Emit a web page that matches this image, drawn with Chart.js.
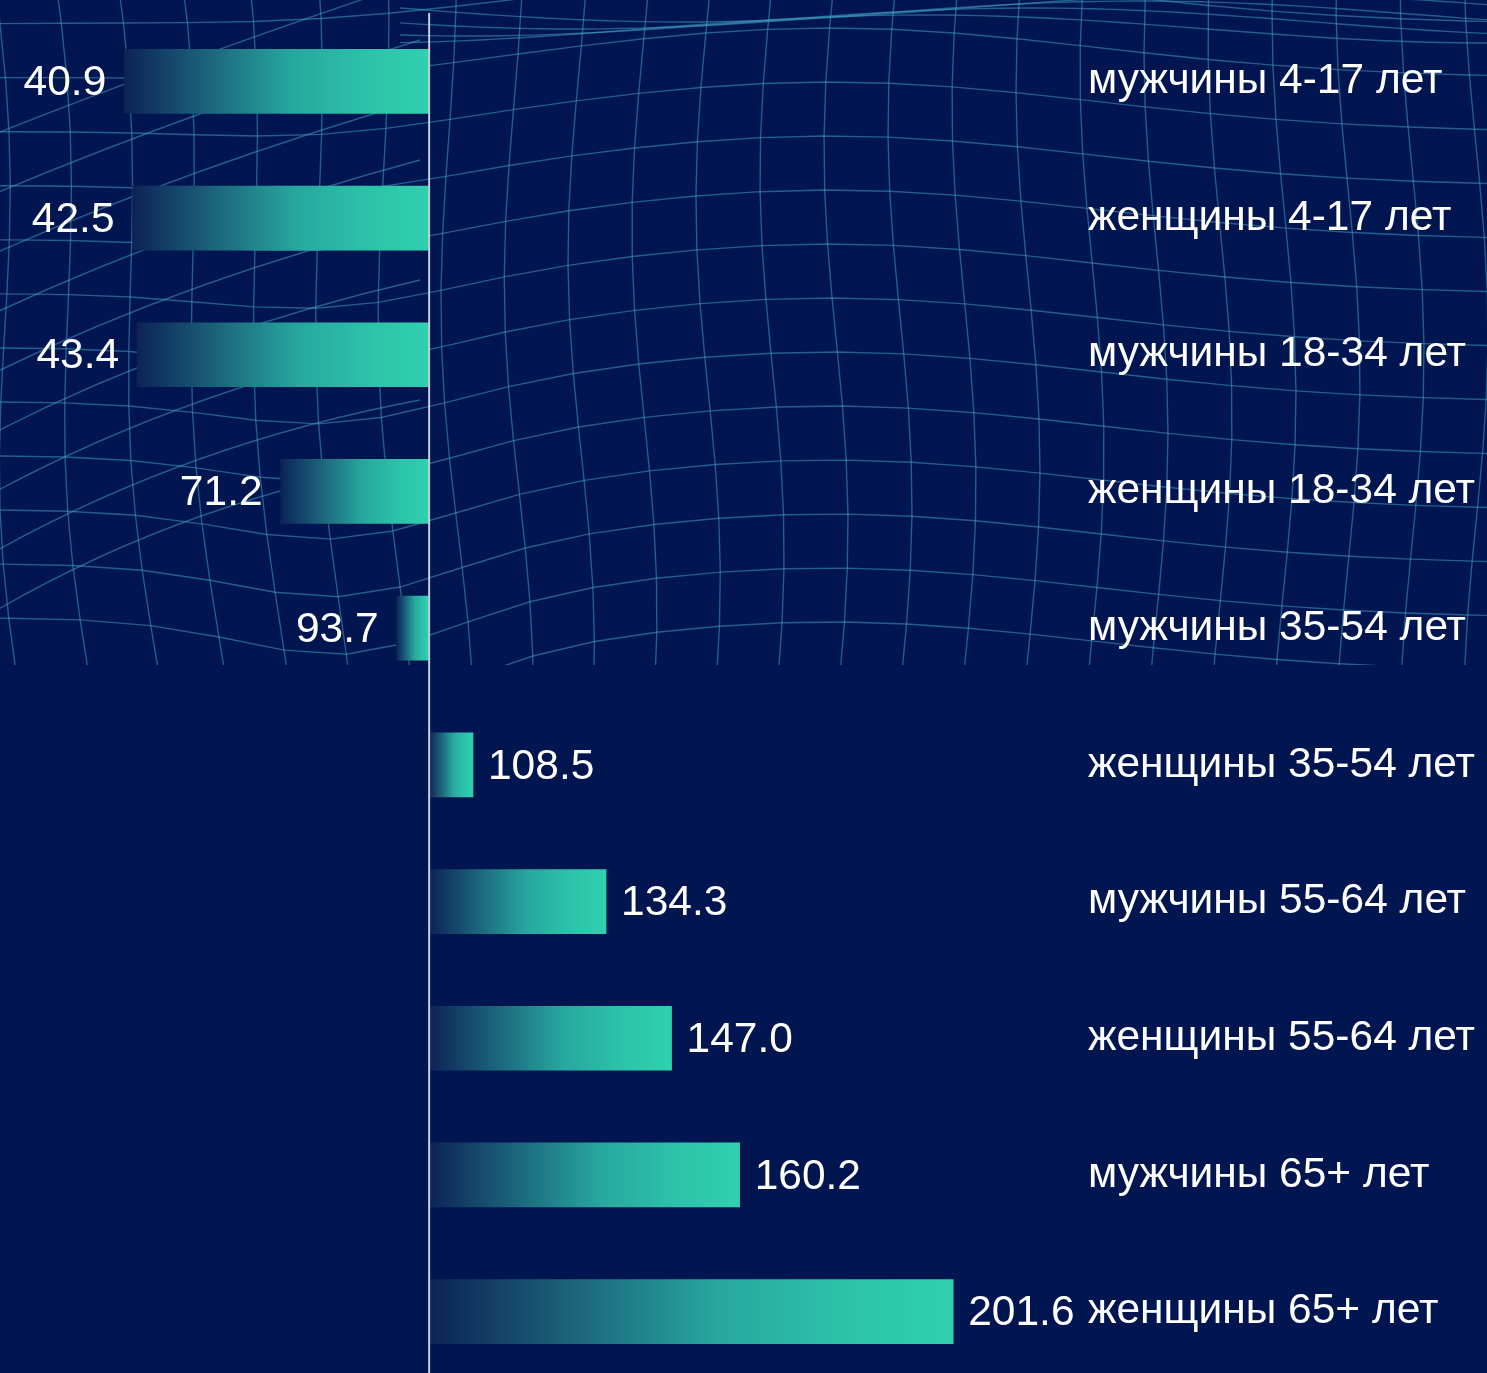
<!DOCTYPE html>
<html>
<head>
<meta charset="utf-8">
<script src="https://cdn.jsdelivr.net/npm/chart.js@4"></script>
<style>
  html, body { margin: 0; padding: 0; background: #011650; overflow: hidden; }
  #wrap { width: 1487px; height: 1380px; position: relative; }
</style>
</head>
<body>
<div id="wrap"><canvas id="chart"></canvas></div>
<script>
const categories = [
    'мужчины 4-17 лет', 'женщины 4-17 лет', 'мужчины 18-34 лет', 'женщины 18-34 лет',
    'мужчины 35-54 лет', 'женщины 35-54 лет', 'мужчины 55-64 лет', 'женщины 55-64 лет',
    'мужчины 65+ лет', 'женщины 65+ лет'
];
const values = [40.9, 42.5, 43.4, 71.2, 93.7, 108.5, 134.3, 147.0, 160.2, 201.6];
const baseline = 100;

const BG = '#011650';
const FONT = '"Liberation Sans", Arial, sans-serif';

// wireframe decoration behind the upper part of the chart
const meshPlugin = {
    id: 'mesh',
    beforeDraw(chart) {
        const c = chart.ctx;
        c.save();
        c.fillStyle = BG;
        c.fillRect(0, 0, chart.width, chart.height);
        c.beginPath();
        c.rect(0, 0, chart.width, 665);
        c.clip();
        c.strokeStyle = 'rgba(70, 165, 200, 0.5)';
        c.lineWidth = 1.4;

        const warp = (i, j) => {
            let x = i * 64 - 60 + 12 * Math.sin(j * 0.45 + i * 0.2);
            let y = j * 54 - 30;
            y += -50 * Math.exp(-Math.pow((x - 830) / 380, 2));
            y += 45 * Math.exp(-Math.pow((x - 330) / 160, 2)) * (j / 12);
            x += (j - 6) * 4 * Math.exp(-Math.pow((x - 200) / 250, 2));
            return [x, y];
        };
        const cols = 26, rows = 14;
        for (let j = 0; j <= rows; j++) {
            c.beginPath();
            for (let i = 0; i <= cols; i++) {
                const [x, y] = warp(i, j);
                if (i === 0) c.moveTo(x, y); else c.lineTo(x, y);
            }
            c.stroke();
        }
        for (let i = 0; i <= cols; i++) {
            c.beginPath();
            for (let j = 0; j <= rows; j++) {
                const [x, y] = warp(i, j);
                if (j === 0) c.moveTo(x, y); else c.lineTo(x, y);
            }
            c.stroke();
        }
        // left diagonal strands
        for (let k = 0; k < 9; k++) {
            c.beginPath();
            c.moveTo(-20, 140 + k * 60);
            c.quadraticCurveTo(180, 60 + k * 55, 420, -20 + k * 60);
            c.stroke();
        }
        // denser wave along the very top
        for (let k = 0; k < 4; k++) {
            c.beginPath();
            for (let x = 400; x <= 1500; x += 20) {
                const y = 8 + k * 7 + 14 * Math.sin((x - 400) / 180 + k * 0.6);
                if (x === 400) c.moveTo(x, y); else c.lineTo(x, y);
            }
            c.stroke();
        }
        c.restore();
    }
};

// baseline line and value labels
const overlayPlugin = {
    id: 'overlay',
    afterDatasetsDraw(chart) {
        const c = chart.ctx;
        const x = chart.scales.x;
        const area = chart.chartArea;
        const bx = x.getPixelForValue(baseline);
        c.save();
        c.strokeStyle = '#c9ccd6';
        c.lineWidth = 2;
        c.beginPath();
        c.moveTo(bx, area.top);
        c.lineTo(bx, chart.height);
        c.stroke();

        c.fillStyle = '#ffffff';
        c.font = '42.5px ' + FONT;
        c.textBaseline = 'middle';
        chart.getDatasetMeta(0).data.forEach((bar, i) => {
            const v = values[i];
            const px = x.getPixelForValue(v);
            if (v < baseline) {
                c.textAlign = 'right';
                c.fillText(v.toFixed(1), px - 18, bar.y + 2);
            } else {
                c.textAlign = 'left';
                c.fillText(v.toFixed(1), px + 15, bar.y + 2);
            }
        });
        c.restore();
    }
};

function barGradient(context) {
    const chart = context.chart;
    if (!chart.chartArea) return '#30d0b0';
    const v = values[context.dataIndex];
    const x = chart.scales.x;
    const x0 = x.getPixelForValue(Math.min(v, baseline));
    const x1 = x.getPixelForValue(Math.max(v, baseline));
    const g = chart.ctx.createLinearGradient(x0, 0, x1, 0);
    g.addColorStop(0, '#0c2356');
    g.addColorStop(0.25, '#1b5e78');
    g.addColorStop(0.55, '#27a79e');
    g.addColorStop(0.8, '#2cc3aa');
    g.addColorStop(1, '#30d0b0');
    return g;
}

new Chart(document.getElementById('chart'), {
    type: 'bar',
    data: {
        labels: categories,
        datasets: [{
            data: values.map(v => [Math.min(v, baseline), Math.max(v, baseline)]),
            backgroundColor: barGradient,
            borderWidth: 0,
            borderSkipped: false,
            barThickness: 64
        }]
    },
    options: {
        indexAxis: 'y',
        responsive: true,
        maintainAspectRatio: false,
        animation: false,
        layout: { padding: { top: 13, left: 0, right: 0, bottom: 0 } },
        scales: {
            x: {
                display: false,
                min: 16.8,
                max: 225.8
            },
            y: {
                position: 'right',
                offset: true,
                grid: { display: false, drawTicks: false },
                border: { display: false },
                afterFit(scale) {
                    scale.width = 409;
                    scale.paddingTop = 0;
                    scale.paddingBottom = 0;
                },
                ticks: {
                    autoSkip: false,
                    crossAlign: 'near',
                    padding: 10,
                    color: '#ffffff',
                    font: { size: 42.5, family: FONT }
                }
            }
        },
        plugins: {
            legend: { display: false },
            tooltip: { enabled: false }
        }
    },
    plugins: [meshPlugin, overlayPlugin]
});
</script>
</body>
</html>
